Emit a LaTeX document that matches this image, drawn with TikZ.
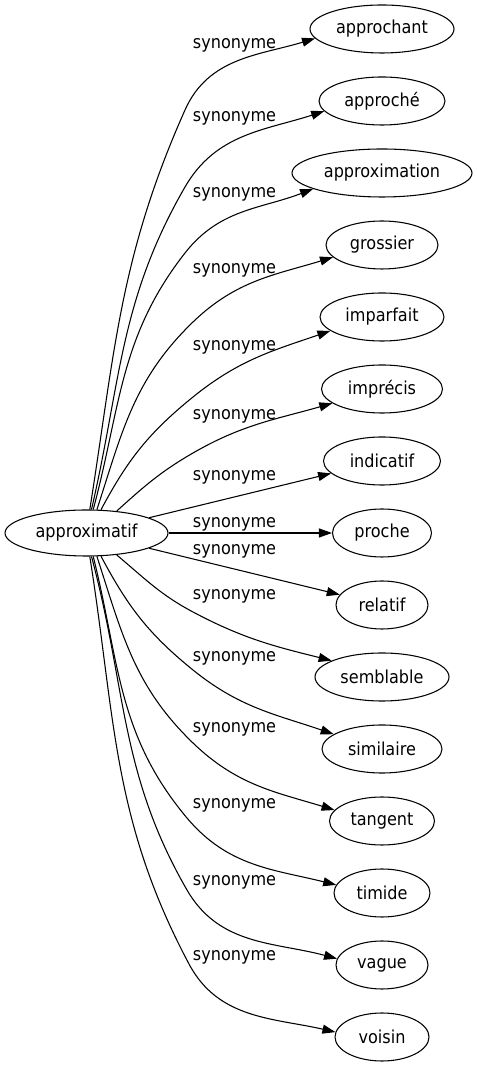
\documentclass[tikz,border=0pt]{standalone}
\usepackage{fontspec}
\newfontfamily\gvfont[FakeStretch=0.9]{DejaVu Sans}
\usetikzlibrary{shapes.geometric,arrows.meta}
\begin{document}
\begin{tikzpicture}[x=0.75pt,y=0.75pt,
  word/.style={ellipse, draw, line width=0.8pt, inner sep=0pt, minimum height=36pt,
    font=\gvfont\fontsize{13.4pt}{16pt}\selectfont},
  lab/.style={anchor=base, inner sep=0pt, font=\gvfont\fontsize{13.4pt}{16pt}\selectfont},
  edge/.style={draw, line width=0.8pt, -{Triangle[length=9.75pt,width=6.75pt]}}]
\useasboundingbox (0,0) rectangle (477,1067);
% nodes
\node[word, minimum width=122.25pt, minimum height=34.5pt] (c) at (86.5,534) {approximatif};
\node[word, minimum width=108pt]   (n1)  at (382,1038) {approchant};
\node[word, minimum width=94.5pt]  (n2)  at (382,966)  {approché};
\node[word, minimum width=135pt]   (n3)  at (382,894)  {approximation};
\node[word, minimum width=84pt]    (n4)  at (382,822)  {grossier};
\node[word, minimum width=93pt]    (n5)  at (382,750)  {imparfait};
\node[word, minimum width=90.75pt] (n6)  at (382,678)  {imprécis};
\node[word, minimum width=87.75pt] (n7)  at (382,606)  {indicatif};
\node[word, minimum width=74.25pt] (n8)  at (382,534)  {proche};
\node[word, minimum width=69pt]    (n9)  at (382,462)  {relatif};
\node[word, minimum width=100.5pt] (n10) at (382,390)  {semblable};
\node[word, minimum width=90pt]    (n11) at (382,318)  {similaire};
\node[word, minimum width=78.75pt] (n12) at (382,246)  {tangent};
\node[word, minimum width=72pt]    (n13) at (382,174)  {timide};
\node[word, minimum width=69pt]    (n14) at (382,102)  {vague};
\node[word, minimum width=70.5pt]  (n15) at (382,30)   {voisin};
% edges
\draw[edge] (c.82) to[out=81,in=246] (185,957) to[out=66,in=197] (n1.188);
\draw[edge] (c.78) to[out=77,in=240] (185,880) to[out=60,in=198] (n2.190);
\draw[edge] (c.74) to[out=75,in=232] (185,814) to[out=52,in=201] (n3.193);
\draw[edge] (c.66) to[out=72,in=224] (193,745) to[out=44,in=197] (n4.194);
\draw[edge] (c.58) to[out=62,in=219] (193,670) to[out=39,in=199] (n5.195);
\draw[edge] (c.36) to[out=42,in=210] (193,614) to[out=30,in=196] (n6.196);
\draw[edge] (c) -- (n7);
\draw[edge] (c) -- (n8);
\draw[edge] (c) -- (n9);
\draw[edge] (c.324) to[out=-40,in=152] (193,455) to[out=-28,in=166] (n10.162);
\draw[edge] (c.302) to[out=-62,in=141] (193,397) to[out=-39,in=161] (n11.163);
\draw[edge] (c.294) to[out=-72,in=136] (193,324) to[out=-44,in=163] (n12.167);
\draw[edge] (c.286) to[out=-76,in=130] (187,249) to[out=-50,in=166] (n13.170);
\draw[edge] (c.282) to[out=-75,in=120] (187,177) to[out=-60,in=165] (n14.172);
\draw[edge] (c.278) to[out=-81,in=118] (189,103) to[out=-62,in=167] (n15.174);
% labels
\node[lab] (l1)  at (234.5,1018.5) {synonyme};
\node[lab] (l2)  at (234.5,945.5)  {synonyme};
\node[lab] (l3)  at (234.5,869.5)  {synonyme};
\node[lab] (l4)  at (234.5,793.5)  {synonyme};
\node[lab] (l5)  at (234.5,716.5)  {synonyme};
\node[lab] (l6)  at (234.5,647.5)  {synonyme};
\node[lab] (l7)  at (234.5,586.5)  {synonyme};
\node[lab] (l8)  at (234.5,539.5)  {synonyme};
\node[lab] (l9)  at (234.5,512)    {synonyme};
\node[lab] (l10) at (234.5,467.5)  {synonyme};
\node[lab] (l11) at (234.5,405.5)  {synonyme};
\node[lab] (l12) at (234.5,334.5)  {synonyme};
\node[lab] (l13) at (234.5,258.5)  {synonyme};
\node[lab] (l14) at (234.5,181.5)  {synonyme};
\node[lab] (l15) at (234.5,106.5)  {synonyme};
\end{tikzpicture}
\end{document}
